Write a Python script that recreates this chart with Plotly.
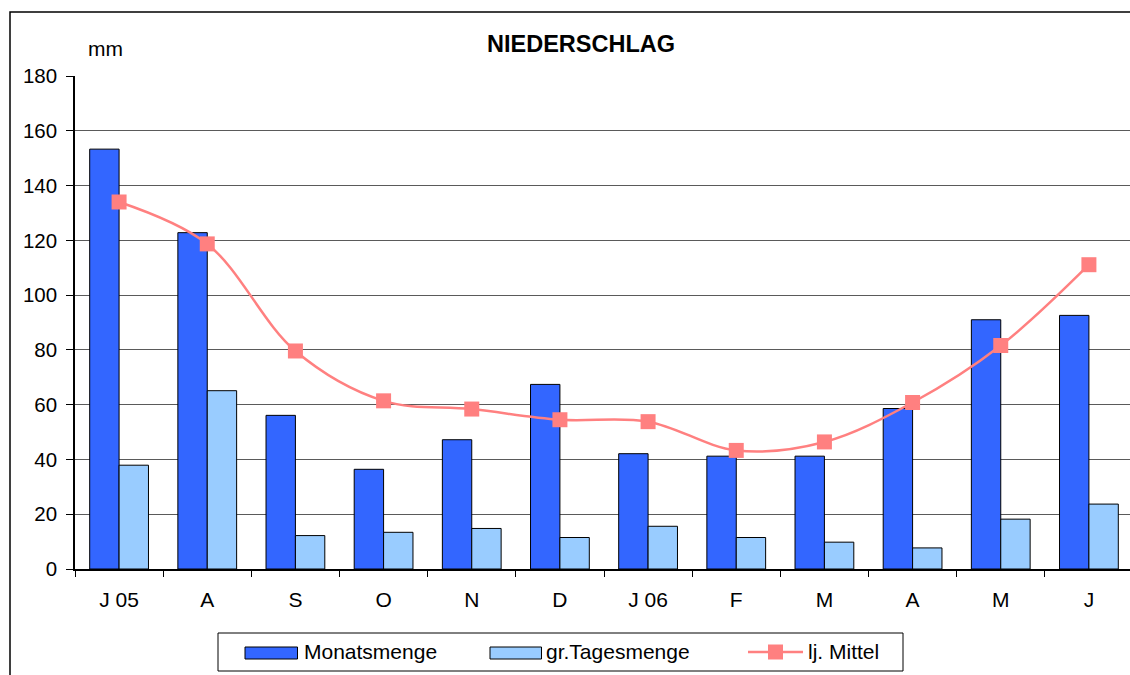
import plotly.graph_objects as go

months = ["J 05", "A", "S", "O", "N", "D", "J 06", "F", "M", "A", "M", "J"]
monatsmenge = [153.3, 122.8, 56.1, 36.4, 47.2, 67.4, 42.1, 41.2, 41.2, 58.6, 91.0, 92.6]
tagesmenge = [37.9, 65.1, 12.2, 13.4, 14.8, 11.5, 15.6, 11.5, 9.8, 7.7, 18.2, 23.7]
mittel = [134.0, 118.7, 79.6, 61.4, 58.4, 54.5, 53.8, 43.3, 46.4, 60.8, 81.6, 111.1]
series_names = ["Monatsmenge", "gr.Tagesmenge", "lj. Mittel"]

BLUE, LIGHT, PINK = "#3366FF", "#99CCFF", "#FF8080"
x = list(range(len(months)))
FONT = "Liberation Sans, Arial, sans-serif"

fig = go.Figure()
fig.add_trace(go.Bar(x=x, y=monatsmenge, name=series_names[0], showlegend=False,
                     marker=dict(color=BLUE, line=dict(color="black", width=1))))
fig.add_trace(go.Bar(x=x, y=tagesmenge, name=series_names[1], showlegend=False,
                     marker=dict(color=LIGHT, line=dict(color="black", width=1))))
fig.add_trace(go.Scatter(x=x, y=mittel, name=series_names[2], mode="lines+markers", showlegend=False,
                         line=dict(color=PINK, width=2.5, shape="spline", smoothing=1),
                         marker=dict(symbol="square", size=15, color=PINK)))

W, H = 1130, 675
ml, mr, mt, mb = 75, 0, 76, 106
pw, ph = W - ml - mr, H - mt - mb


def px_x(p):
    return (p - ml) / pw


def px_y(p):
    return (H - mb - p) / ph


shapes = [
    # outer chart border
    dict(type="rect", xref="paper", yref="paper", x0=px_x(10), x1=px_x(1145),
         y0=px_y(700), y1=px_y(12), line=dict(color="black", width=1.5),
         fillcolor="rgba(0,0,0,0)", layer="below"),
    # legend box
    dict(type="rect", xref="paper", yref="paper", x0=px_x(218), x1=px_x(903),
         y0=px_y(671), y1=px_y(633), line=dict(color="black", width=1),
         fillcolor="white", layer="above"),
    # legend symbols
    dict(type="rect", xref="paper", yref="paper", x0=px_x(245), x1=px_x(297.5),
         y0=px_y(659), y1=px_y(647), line=dict(color="black", width=1),
         fillcolor=BLUE, layer="above"),
    dict(type="rect", xref="paper", yref="paper", x0=px_x(490), x1=px_x(541.5),
         y0=px_y(659), y1=px_y(647), line=dict(color="black", width=1),
         fillcolor=LIGHT, layer="above"),
    dict(type="line", xref="paper", yref="paper", x0=px_x(748), x1=px_x(803),
         y0=px_y(652), y1=px_y(652), line=dict(color=PINK, width=2.5), layer="above"),
    dict(type="rect", xref="paper", yref="paper", x0=px_x(768), x1=px_x(783),
         y0=px_y(659.5), y1=px_y(644.5), line=dict(width=0),
         fillcolor=PINK, layer="above"),
]

legend_text_x = [303, 545, 807]
annotations = [
    dict(text="<b>NIEDERSCHLAG</b>", xref="paper", yref="paper", x=px_x(581), y=px_y(44),
         xanchor="center", yanchor="middle", showarrow=False,
         font=dict(family=FONT, size=23.5)),
    dict(text="mm", xref="paper", yref="paper", x=px_x(105.5), y=px_y(49),
         xanchor="center", yanchor="middle", showarrow=False,
         font=dict(family=FONT, size=21)),
]
for name, tx in zip(series_names, legend_text_x):
    annotations.append(dict(text=name, xref="paper", yref="paper", x=px_x(tx), y=px_y(651),
                            xanchor="left", yanchor="middle", showarrow=False, borderpad=0,
                            font=dict(family=FONT, size=21)))

fig.update_layout(
    width=W, height=H,
    margin=dict(l=ml, r=mr, t=mt, b=mb, pad=0),
    paper_bgcolor="white", plot_bgcolor="white",
    barmode="group", bargap=1/3, bargroupgap=0,
    font=dict(family=FONT, size=21, color="black"),
    showlegend=False,
    xaxis=dict(range=[-0.5, 11.466], tickmode="array", tickvals=x, ticktext=months,
               ticks="", showgrid=False, zeroline=False, showline=True,
               linecolor="black", linewidth=1.5, ticklabelstandoff=11,
               tickfont=dict(size=21),
               minor=dict(tick0=-0.5, dtick=1, ticks="outside", ticklen=6,
                          tickcolor="black", tickwidth=1, showgrid=False)),
    yaxis=dict(range=[0, 180], dtick=20, showgrid=True, gridcolor="#5a5a5a", gridwidth=1,
               zeroline=False, showline=True, linecolor="black", linewidth=1.5,
               ticks="outside", ticklen=7, tickcolor="black", ticklabelstandoff=5,
               tickfont=dict(size=20.5)),
    annotations=annotations,
    shapes=shapes,
)

fig.write_html("out.html", config={"displayModeBar": False},
               post_script="document.body.style.margin='0';")
